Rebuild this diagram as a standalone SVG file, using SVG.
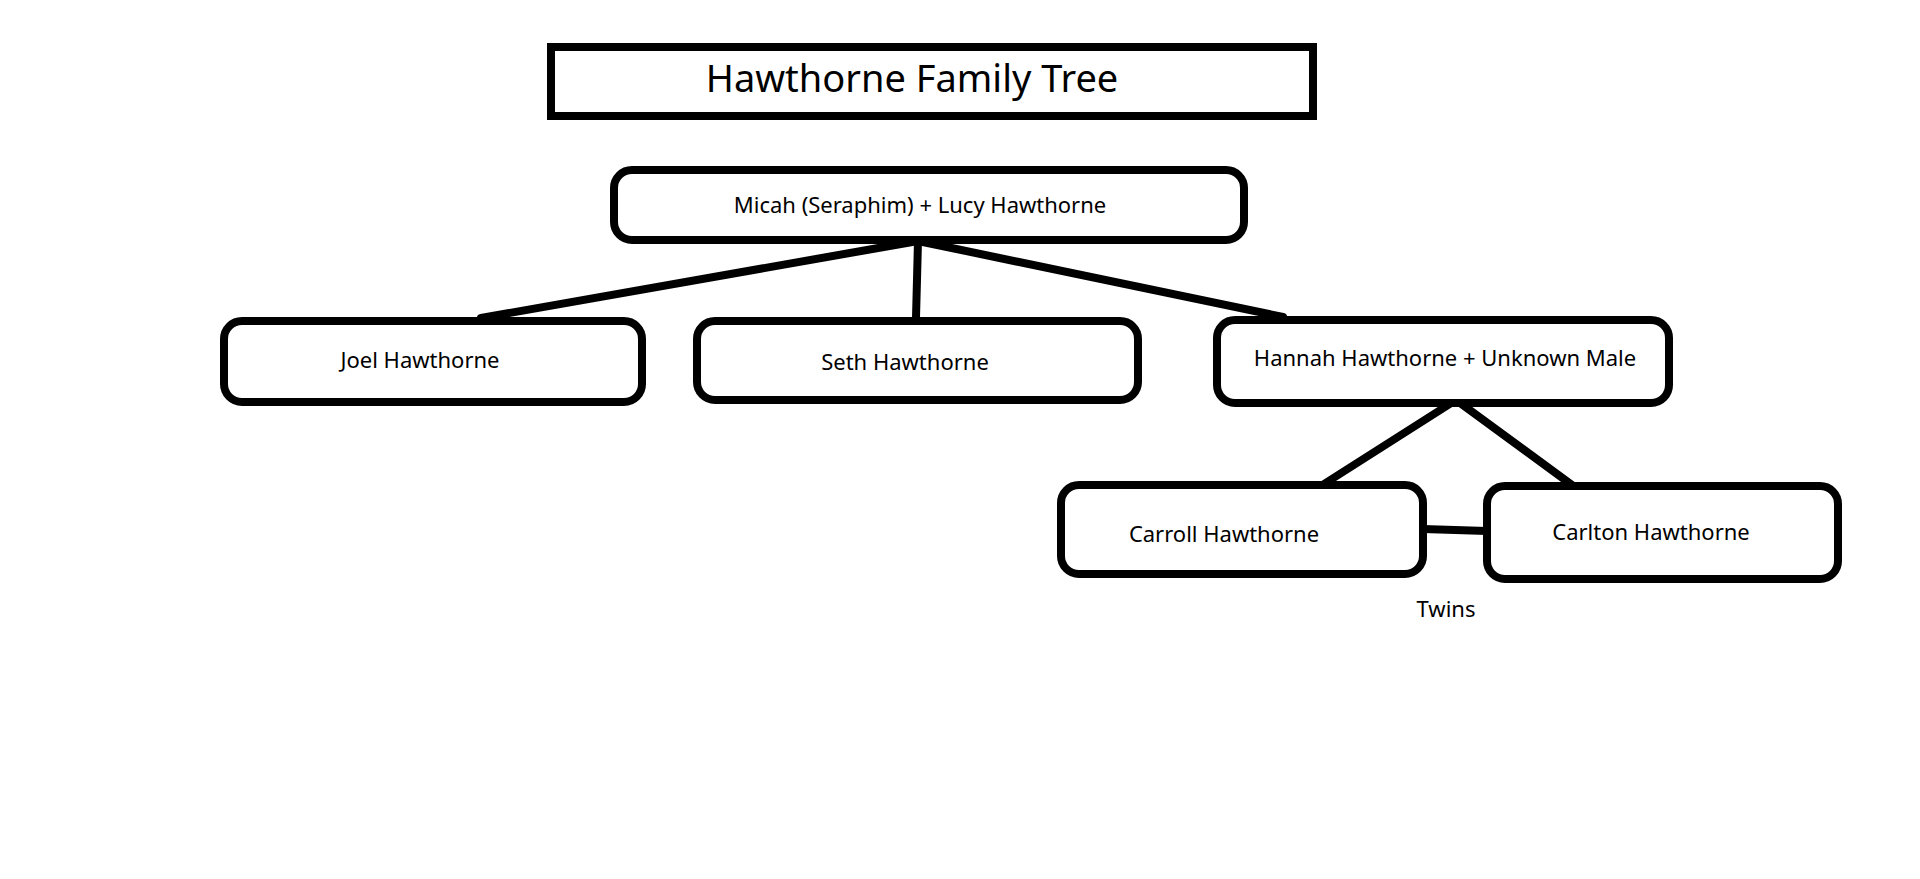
<svg xmlns="http://www.w3.org/2000/svg" width="1920" height="879" viewBox="0 0 1920 879">
<style>
.b{fill:#fff;stroke:#000;stroke-width:8}
.t{font-family:"Noto Sans","Open Sans",sans-serif;font-size:22px;text-anchor:middle;dominant-baseline:middle;fill:#000}
.c line{stroke:#000;stroke-width:8;stroke-linecap:round}
</style>
<rect width="1920" height="879" fill="#fff"/>
<g class="c">
<line x1="918" y1="241" x2="481" y2="318"/>
<line x1="918" y1="241" x2="916" y2="318"/>
<line x1="918" y1="241" x2="1283" y2="317"/>
<line x1="1456" y1="400" x2="1324" y2="484"/>
<line x1="1456" y1="400" x2="1572" y2="485"/>
<line x1="1423" y1="529" x2="1487" y2="531"/>
</g>
<g id="title"><rect class="b" x="551" y="47" width="762" height="69"/><text class="t" x="912" y="82" style="font-size:38px">Hawthorne Family Tree</text></g>
<g id="micah"><rect class="b" x="614" y="170" width="630" height="70" rx="18"/><text class="t" x="920" y="207">Micah (Seraphim) + Lucy Hawthorne</text></g>
<g id="joel"><rect class="b" x="224" y="321" width="418" height="81" rx="18"/><text class="t" x="420" y="362">Joel Hawthorne</text></g>
<g id="seth"><rect class="b" x="697" y="321" width="441" height="79" rx="18"/><text class="t" x="905" y="364">Seth Hawthorne</text></g>
<g id="hannah"><rect class="b" x="1217" y="320" width="452" height="83" rx="18"/><text class="t" x="1445" y="360">Hannah Hawthorne + Unknown Male</text></g>
<g id="carroll"><rect class="b" x="1061" y="485" width="362" height="89" rx="18"/><text class="t" x="1224" y="536">Carroll Hawthorne</text></g>
<g id="carlton"><rect class="b" x="1487" y="486" width="351" height="93" rx="18"/><text class="t" x="1651" y="534">Carlton Hawthorne</text></g>
<text class="t" x="1446" y="611">Twins</text>
</svg>
